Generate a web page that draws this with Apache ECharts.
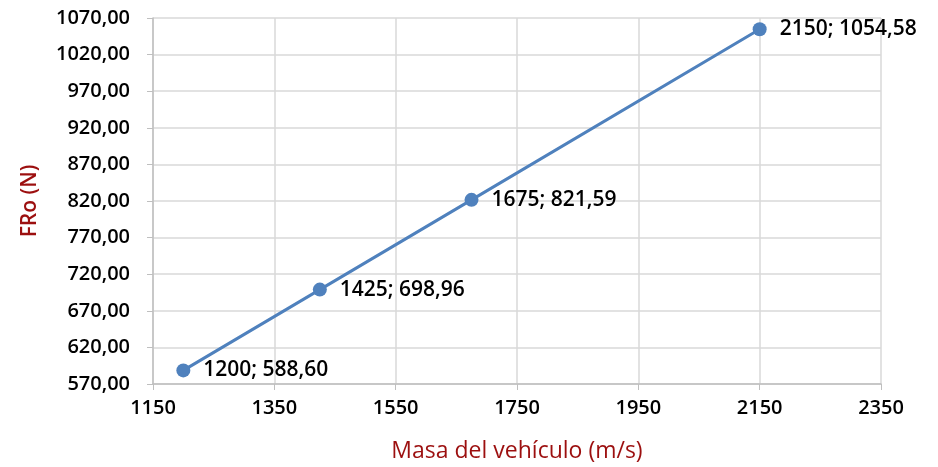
<!DOCTYPE html>
<html>
<head>
    <meta charset="utf-8">
    <title>FRo vs masa</title>
    <script src="https://cdn.jsdelivr.net/npm/echarts@6/dist/echarts.min.js"></script>
    <style>
        html, body { margin: 0; padding: 0; background: #fff; }
        #chart { width: 938px; height: 467px; }
    </style>
</head>
<body>
    <div id="chart"></div>
    <script>
    // datos
    const masas = [1200, 1425, 1675, 2150];
    const fuerzas = [588.60, 698.96, 821.59, 1054.58];

    const fmt = v => v.toFixed(2).replace('.', ',');
    const font = '"Open Sans", "Liberation Sans", sans-serif';

    const chart = echarts.init(document.getElementById('chart'));
    chart.setOption({
        animation: false,
        grid: { left: 153, right: 57, top: 18, bottom: 83, outerBoundsMode: 'none' },
        xAxis: {
            type: 'value',
            min: 1150, max: 2350, interval: 200,
            name: 'Masa del vehículo (m/s)',
            nameLocation: 'middle',
            nameGap: 56,
            nameTextStyle: { color: '#9c0f0f', fontSize: 23, fontFamily: font },
            axisLine: { show: true, lineStyle: { color: '#bfbfbf', width: 1.5 } },
            axisTick: { show: true, length: 6, lineStyle: { color: '#bfbfbf' } },
            axisLabel: { color: '#000', fontSize: 20, fontWeight: 600, fontFamily: font, margin: 14, formatter: v => String(v) },
            splitLine: { show: true, lineStyle: { color: '#d9d9d9', width: 1.5 } }
        },
        yAxis: {
            type: 'value',
            min: 570, max: 1070, interval: 50,
            name: 'FRo (N)',
            nameLocation: 'middle',
            nameGap: 112,
            nameTextStyle: { color: '#9c0f0f', fontSize: 21, fontWeight: 600, fontFamily: font },
            axisLine: { show: true, lineStyle: { color: '#bfbfbf', width: 1.5 } },
            axisTick: { show: true, length: 6, lineStyle: { color: '#bfbfbf' } },
            axisLabel: { color: '#000', fontSize: 20, fontWeight: 600, fontFamily: font, margin: 23, formatter: v => fmt(v) },
            splitLine: { show: true, lineStyle: { color: '#d9d9d9', width: 1.5 } }
        },
        series: [{
            type: 'line',
            data: masas.map((m, i) => [m, fuerzas[i]]),
            symbol: 'circle',
            symbolSize: 14,
            lineStyle: { color: '#4f81bd', width: 3 },
            itemStyle: { color: '#4f81bd' },
            label: {
                show: true,
                position: 'right',
                distance: 13,
                color: '#000',
                fontSize: 21,
                fontWeight: 600,
                fontFamily: font,
                formatter: p => p.value[0] + '; ' + fmt(p.value[1])
            }
        }]
    });
    </script>
</body>
</html>
